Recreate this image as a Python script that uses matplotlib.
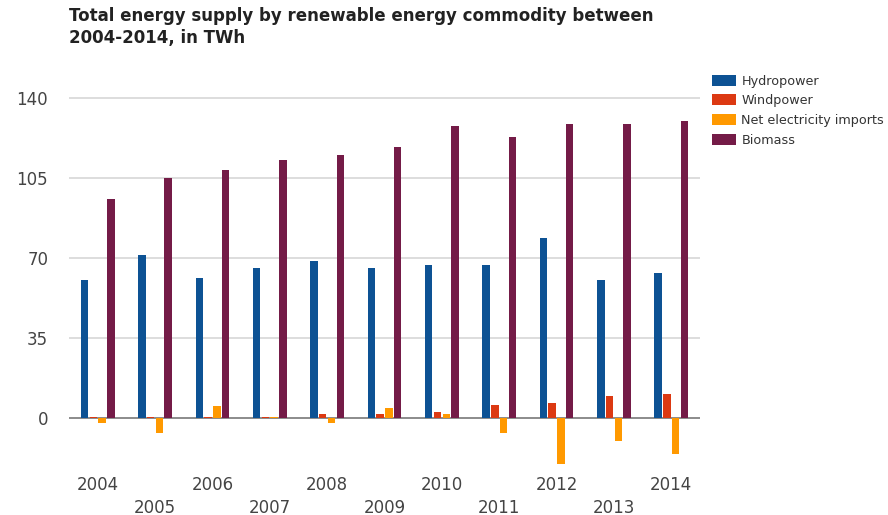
import matplotlib
matplotlib.use('Agg')
import matplotlib.pyplot as plt
import numpy as np
from matplotlib.patches import Patch

plt.rcParams['font.family'] = ['DejaVu Sans']

years = ['2004', '2005', '2006', '2007', '2008', '2009', '2010', '2011', '2012', '2013', '2014']
hydropower = [60.4, 71.6, 61.5, 65.6, 68.9, 65.6, 66.9, 66.9, 79.0, 60.5, 63.7]
windpower = [0.8, 0.8, 0.8, 0.8, 2.0, 2.0, 3.0, 5.7, 6.8, 9.9, 10.8]
net_import = [-1.8, -6.5, 5.5, 0.8, -1.8, 4.6, 2.0, -6.5, -19.7, -9.7, -15.4]
biomass = [95.9, 104.9, 108.6, 112.9, 115.1, 118.6, 127.8, 123.0, 128.8, 128.8, 129.8]

series = [('Hydropower', hydropower, '#0d5294'),
          ('Windpower', windpower, '#dc3912'),
          ('Net electricity imports', net_import, '#ff9900'),
          ('Biomass', biomass, '#741b47')]

fig = plt.figure(figsize=(8.88, 5.15), dpi=100)
ax = fig.add_axes([69/888, 1 - 466.5/515, 631/888, 370.8/515])

x = np.arange(len(years))
pitch = 0.153
width = 0.13
for i, (name, vals, col) in enumerate(series):
    ax.bar(x + (i - 1.5) * pitch, vals, width, color=col, linewidth=0, zorder=3)

ax.set_xlim(-0.5, len(years) - 0.5)
ax.set_ylim(-21, 141)
ax.set_yticks([0, 35, 70, 105, 140])
ax.yaxis.grid(True, color='#dddddd', linewidth=1.4, zorder=0)
ax.axhline(0, color='#777777', linewidth=1.1, zorder=2)
for s in ax.spines.values():
    s.set_visible(False)
ax.tick_params(axis='y', length=0, pad=15, labelsize=12, labelcolor='#444444')
ax.set_xticks([])

# staggered year labels under the groups
for i, yr in enumerate(years):
    yoff = -0.0505 if i % 2 == 0 else -0.111
    ax.text(i, yoff, yr, transform=ax.get_xaxis_transform(), ha='center',
            va='center', fontsize=12, color='#444444')

fig.text(69/888, 1 - 7/515,
         'Total energy supply by renewable energy commodity between\n2004-2014, in TWh',
         ha='left', va='top', fontsize=12, fontweight='bold', color='#222222',
         linespacing=1.25)

handles = [Patch(facecolor=col, linewidth=0) for _, _, col in series]
fig.legend(handles, [s[0] for s in series], loc='upper left',
           bbox_to_anchor=(712/888, 1 - 74.5/515), frameon=False, fontsize=9.2,
           handlelength=1.9, handleheight=0.94, handletextpad=0.4,
           labelspacing=0.53, borderaxespad=0, borderpad=0,
           labelcolor='#333333')

fig.savefig('out.png', dpi=100)
